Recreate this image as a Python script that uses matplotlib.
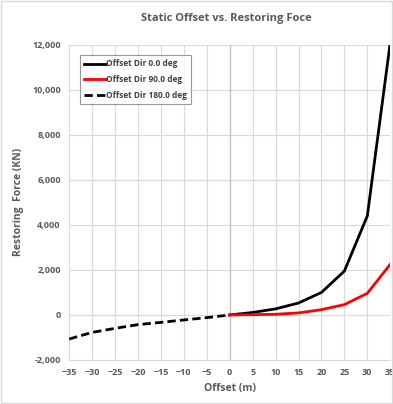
import numpy as np
import matplotlib.pyplot as plt
from matplotlib.patches import Rectangle

# === DATA ===
offset_pos = [0, 5, 10, 15, 20, 25, 30, 35]
force_dir0 = [0, 110, 270, 530, 1000, 1950, 4400, 12100]
force_dir90 = [0, 10, 30, 90, 235, 460, 960, 2250]

offset_neg = [-35, -30, -25, -20, -15, -10, -5, 0]
force_dir180 = [-1070, -775, -595, -430, -330, -222, -120, 0]

x_ticks = list(range(-35, 40, 5))
y_ticks = list(range(-2000, 12001, 2000))

grey = '#595959'
plt.rcParams['font.family'] = ['Open Sans', 'DejaVu Sans']

fig = plt.figure(figsize=(3.93, 4.04), dpi=100)
fig.patches.append(Rectangle((0.003, 0.003), 0.994, 0.994, transform=fig.transFigure,
                             fill=False, edgecolor='#d9d9d9', lw=1))
ax = fig.add_axes([0.176, 0.109, 0.817, 0.78])

ax.plot(offset_pos, force_dir0, color='black', lw=2, label='Offset Dir 0.0 deg', clip_on=True)
ax.plot(offset_pos, force_dir90, color='red', lw=2, label='Offset Dir 90.0 deg')
ax.plot(offset_neg, force_dir180, color='black', lw=2, ls=(0, (3, 1.5)), label='Offset Dir 180.0 deg')

ax.set_xlim(-35, 35)
ax.set_ylim(-2000, 12000)
ax.set_xticks(x_ticks)
ax.set_yticks(y_ticks)
ax.set_yticklabels([f'{v:,}' for v in y_ticks])
ax.grid(True, color='#d9d9d9', lw=0.8)
ax.set_axisbelow(True)
ax.axvline(0, color='#bfbfbf', lw=0.9, zorder=1)
for s in ['top', 'right', 'left']:
    ax.spines[s].set_visible(False)
ax.spines['bottom'].set_color('#d9d9d9')
ax.tick_params(length=0, labelsize=6.5, colors=grey, pad=6)
for lbl in ax.get_xticklabels() + ax.get_yticklabels():
    lbl.set_fontweight('bold')

ax.set_xlabel('Offset (m)', fontsize=7.5, color=grey, fontweight='bold', labelpad=4)
ax.set_ylabel('Restoring  Force (KN)', fontsize=7.5, color=grey, fontweight='bold', labelpad=6)
fig.text(0.575, 0.955, 'Static Offset vs. Restoring Foce', ha='center', va='center',
         fontsize=8, color=grey, fontweight='bold')

leg = ax.legend(loc='upper left', bbox_to_anchor=(0.02, 0.98), fontsize=6, frameon=True,
                fancybox=False, edgecolor='#7f7f7f', handlelength=2.6, handletextpad=0.1,
                borderpad=0.5, labelspacing=0.8)
leg.get_frame().set_linewidth(0.8)
for t in leg.get_texts():
    t.set_fontweight('bold')
    t.set_color('#404040')

fig.savefig('out.png', dpi=100)
